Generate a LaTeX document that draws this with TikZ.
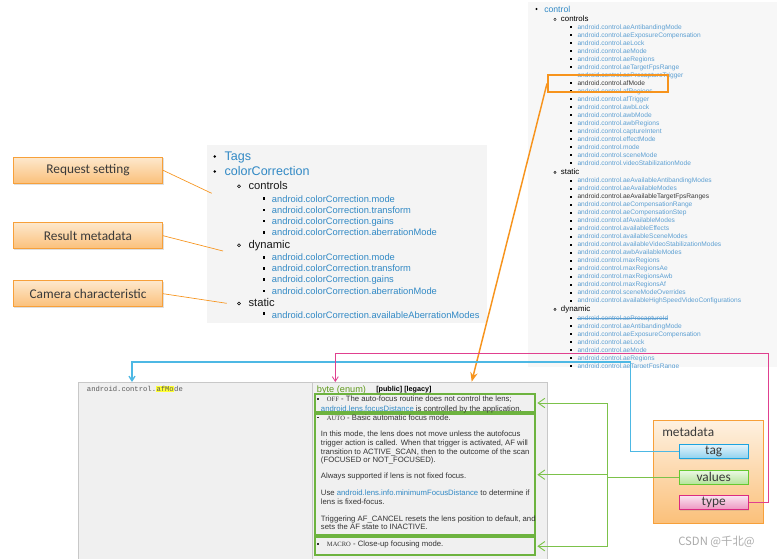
\documentclass[tikz,border=0pt]{standalone}
\usepackage{fontspec}
\setmainfont{Liberation Sans}
\newfontfamily\calibrifont{Carlito}
\newfontfamily\codefont{Liberation Mono}
\newfontfamily\capsfont{Liberation Serif}
\newfontfamily\cjkfont{Noto Sans CJK SC}
\usetikzlibrary{arrows.meta,shadows}

\definecolor{rightbg}{HTML}{F7F7F7}
\definecolor{midbg}{HTML}{F4F4F4}
\definecolor{cellbg}{HTML}{F0F0F0}
\definecolor{cellline}{HTML}{C8C8C8}
\definecolor{linkblue}{HTML}{3189C5}
\definecolor{linkpale}{HTML}{5C9FD2}
\definecolor{darktext}{HTML}{3A3A3A}
\definecolor{bodytext}{HTML}{333333}
\definecolor{enumgreen}{HTML}{5F9A1C}
\definecolor{hlyellow}{HTML}{FFFF33}
\definecolor{orangeline}{HTML}{F7941D}
\definecolor{calloutedge}{HTML}{F7A03A}
\definecolor{callouttop}{HTML}{FDE8CD}
\definecolor{calloutbot}{HTML}{FBC07A}
\definecolor{greenbox}{HTML}{6DB33F}
\definecolor{greenline}{HTML}{7CC24A}
\definecolor{tagblue}{HTML}{1CA3DF}
\definecolor{valgreen}{HTML}{66C830}
\definecolor{typepink}{HTML}{DB2A82}
\definecolor{blueline}{HTML}{4DB8E4}
\definecolor{pinkline}{HTML}{E0408F}
\definecolor{markgray}{HTML}{ABABAB}

\newcommand{\fsz}[2]{\fontsize{#1}{#2}\selectfont}
\newcommand{\capword}[1]{{\capsfont\fsz{4.9}{5}#1}}

\begin{document}
\begin{tikzpicture}[x=0.75pt, y=-0.75pt,
    txt/.style={inner sep=0pt, anchor=base west},
    rtitle/.style={txt, font=\fsz{6.5}{8}, text=linkblue},
    rhead/.style={txt, font=\fsz{5.9}{7}, text=black},
    ritem/.style={txt, font=\fsz{4.95}{6}},
    mtitle/.style={txt, font=\fsz{9.4}{11}, text=linkblue},
    mhead/.style={txt, font=\fsz{8.4}{10}, text=black!90},
    mitem/.style={txt, font=\fsz{7}{8}, text=linkblue},
    doc/.style={txt, font=\fsz{5.8}{7}, text=bodytext},
    callout/.style={draw=calloutedge, line width=0.6pt, top color=callouttop,
        bottom color=calloutbot, minimum width=112pt, minimum height=19.7pt,
        font=\calibrifont\fsz{10}{12}, text=darktext,
        drop shadow={opacity=0.25, shadow xshift=0.8pt, shadow yshift=-0.8pt}},
    pointer/.style={orangeline, line width=0.5pt},
    choice/.style={draw=greenbox, line width=1.5pt, minimum width=165pt, inner sep=0pt},
    field/.style={draw=#1, line width=0.8pt, top color=#1!12, bottom color=#1!50,
        minimum width=52pt, minimum height=10.8pt, inner sep=0pt,
        font=\calibrifont\fsz{10}{12}, text=darktext,
        drop shadow={opacity=0.2, shadow xshift=0.6pt, shadow yshift=-0.6pt}},
    tagwire/.style={blueline, line width=1pt, -{Straight Barb[length=3.5pt,width=4.5pt]}},
    typewire/.style={pinkline, line width=0.6pt, -{Straight Barb[length=3.5pt,width=4.5pt]}},
    valwire/.style={greenline, line width=0.7pt},
    valtip/.style={valwire, shorten >=1pt, -{Straight Barb[length=5pt,width=7pt]}},
    selwire/.style={orangeline, line width=1.1pt, -{Stealth[length=7pt,width=5.5pt]}}]

\useasboundingbox[fill=white] (0,0) rectangle (777,558);

% right panel: control tags
\begin{scope}
  \clip (528,2) rectangle (777,367);
  \fill[rightbg] (528,2) rectangle (777,367);
  \fill (536.5,9) circle (0.9pt);
  \node[rtitle] (control) at (544,12) {control};
  \draw[line width=0.3pt] (555,19.4) circle (0.9pt);
  \node[rhead] (rcontrols) at (560.7,21.8) {controls};
  \foreach \k/\c [count=\i] in {aeAntibandingMode/linkpale, aeExposureCompensation/linkpale,
      aeLock/linkpale, aeMode/linkpale, aeRegions/linkpale, aeTargetFpsRange/linkpale,
      aePrecaptureTrigger/linkpale, afMode/darktext, afRegions/linkpale, afTrigger/linkpale,
      awbLock/linkpale, awbMode/linkpale, awbRegions/linkpale, captureIntent/linkpale,
      effectMode/linkpale, mode/linkpale, sceneMode/linkpale, videoStabilizationMode/linkpale}{
    \fill (570.3,{18.3+8*\i}) rectangle (572.1,{20.1+8*\i});
    \node[ritem, text=\c] (rc\i) at (577.3,{21.5+8*\i}) {android.control.\k};
  }
  \draw[line width=0.3pt] (555,172.3) circle (0.9pt);
  \node[rhead] (rstatic) at (560.7,174.8) {static};
  \foreach \k/\c [count=\i] in {aeAvailableAntibandingModes/linkpale, aeAvailableModes/linkpale,
      aeAvailableTargetFpsRanges/darktext, aeCompensationRange/linkpale,
      aeCompensationStep/linkpale, afAvailableModes/linkpale, availableEffects/linkpale,
      availableSceneModes/linkpale, availableVideoStabilizationModes/linkpale,
      awbAvailableModes/linkpale, maxRegions/linkpale, maxRegionsAe/linkpale,
      maxRegionsAwb/linkpale, maxRegionsAf/linkpale, sceneModeOverrides/linkpale,
      availableHighSpeedVideoConfigurations/linkpale}{
    \fill (570.3,{171.7+8*\i}) rectangle (572.1,{173.5+8*\i});
    \node[ritem, text=\c] (rs\i) at (577.3,{174.9+8*\i}) {android.control.\k};
  }
  \draw[line width=0.3pt] (555,309.3) circle (0.9pt);
  \node[rhead] (rdynamic) at (560.7,311.8) {dynamic};
  \fill (570.3,316.8) rectangle (572.1,318.6);
  \node[ritem, text=linkpale] (rd1) at (577.3,320) {android.control.aePrecaptureId};
  \draw[linkpale, line width=0.35pt] ([yshift=1.5pt]rd1.base west) -- ([yshift=1.5pt]rd1.base east);
  \foreach \k [count=\i from 2] in {aeAntibandingMode, aeExposureCompensation, aeLock,
      aeMode, aeRegions, aeTargetFpsRange}{
    \fill (570.3,{308.8+8*\i}) rectangle (572.1,{310.6+8*\i});
    \node[ritem, text=linkpale] (rd\i) at (577.3,{312+8*\i}) {android.control.\k};
  }
\end{scope}
\node[draw=orangeline, line width=1.5pt, minimum width=90pt, minimum height=12.75pt] (afsel) at (608,83.5) {};

% middle panel: colorCorrection tags
\fill[midbg] (207,145) rectangle (487,323);
\fill (214.7,156.5) circle (1pt);
\node[mtitle] (tags) at (224.3,160.5) {Tags};
\fill (214.7,171.5) circle (1pt);
\node[mtitle] (colorcorr) at (224.3,175.7) {colorCorrection};
\draw[line width=0.4pt] (239,186.3) circle (1.1pt);
\node[mhead] (mcontrols) at (248.3,189.7) {controls};
\foreach \k [count=\i] in {mode, transform, gains, aberrationMode}{
  \fill (262.7,{186.2+11.2*\i}) rectangle (265.3,{188.8+11.2*\i});
  \node[mitem] (mc\i) at (271.7,{190.8+11.2*\i}) {android.colorCorrection.\k};
}
\draw[line width=0.4pt] (239,245.3) circle (1.1pt);
\node[mhead] (mdynamic) at (248.3,248.5) {dynamic};
\foreach \k [count=\i] in {mode, transform, gains, aberrationMode}{
  \fill (262.7,{244.7+11.2*\i}) rectangle (265.3,{247.3+11.2*\i});
  \node[mitem] (md\i) at (271.7,{249.3+11.2*\i}) {android.colorCorrection.\k};
}
\draw[line width=0.4pt] (239,303.5) circle (1.1pt);
\node[mhead] (mstatic) at (248.3,306.8) {static};
\fill (262.7,312.3) rectangle (265.3,314.9);
\node[mitem] (ms1) at (271.7,318.5) {android.colorCorrection.availableAberrationModes};

% callouts
\node[callout] (req) at (88,170.3) {Request setting};
\node[callout] (res) at (88,235.7) {Result metadata};
\node[callout] (cam) at (88,293.7) {Camera characteristic};
\coordinate (reqend) at (211.7,193.3);
\coordinate (resend) at (223,251);
\coordinate (camend) at (226.7,303.3);
\draw[pointer] (req.east) -- (reqend);
\draw[pointer] (res.east) -- (resend);
\draw[pointer] (cam.east) -- (camend);

% bottom table row
\filldraw[fill=cellbg, draw=cellline, line width=0.6pt] (78,382.4) rectangle (547,560);
\draw[cellline, line width=0.6pt] (312,382.4) -- (312,560);
\node[txt, font=\codefont\fsz{5.4}{6}, text=black!65] (tagname) at (86.7,391.6)
    {\setlength{\fboxsep}{0.3pt}android.control.\colorbox{hlyellow}{afMo}de};
\node[txt, font=\fsz{6.9}{8}, text=enumgreen] (enumtype) at (316.7,392) {byte (enum)};
\node[txt, font=\bfseries\fsz{5.4}{6}, text=black] (access) at (376,391.6) {[public] [legacy]};

\node[choice, minimum height=13.5pt] (offbox) at (425,403) {};
\node[choice, minimum height=91pt] (autobox) at (425,474.7) {};
\node[choice, minimum height=13.3pt] (macrobox) at (425,546.2) {};

\fill[bodytext] (317,398.2) rectangle (318.7,399.9);
\node[doc] (off1) at (326.7,401.8) {\capword{OFF} - The auto-focus routine does not control the lens;};
\node[doc] (off2) at (320.7,411.2) {\textcolor{linkblue}{android.lens.focusDistance} is controlled by the application.};
\fill[bodytext] (317,416.6) rectangle (318.7,418.3);
\node[doc] (auto0) at (326.7,420.2) {\capword{AUTO} - Basic automatic focus mode.};
\foreach \y/\t [count=\i] in {436.8/{In this mode, the lens does not move unless the autofocus},
    445.5/{trigger action is called. When that trigger is activated, AF will},
    454.2/{transition to ACTIVE\_SCAN, then to the outcome of the scan},
    462.5/{(FOCUSED or NOT\_FOCUSED).},
    478.8/{Always supported if lens is not fixed focus.},
    521.5/{Triggering AF\_CANCEL resets the lens position to default, and},
    529.8/{sets the AF state to INACTIVE.}}
  \node[doc] (auto\i) at (320.7,\y) {\t};
\node[doc] (use1) at (320.7,495.8) {Use \textcolor{linkblue}{android.lens.info.minimumFocusDistance} to determine if};
\node[doc] (use2) at (320.7,504.5) {lens is fixed-focus.};
\fill[bodytext] (317,542.9) rectangle (318.7,544.6);
\node[doc] (macro) at (326.7,546.5) {\capword{MACRO} - Close-up focusing mode.};

% metadata structure
\node[draw=calloutedge, line width=0.7pt, top color=callouttop!60, bottom color=calloutbot,
    minimum width=82.5pt, minimum height=77.5pt,
    drop shadow={opacity=0.2, shadow xshift=0.8pt, shadow yshift=-0.8pt}] (meta) at (708.3,471.7) {};
\node[anchor=west, inner sep=0pt, font=\calibrifont\fsz{10}{12}, text=darktext] (metatitle) at (662,432.3) {metadata};
\node[field=tagblue] (tag) at (713.7,451.5) {tag};
\node[field=valgreen] (values) at (713.7,477.3) {values};
\node[field=typepink] (type) at (713.7,502.5) {type};

% connectors
\coordinate (afdrop) at (471.7,381.7);
\draw[selwire] (afsel.west) -- (afdrop);

\coordinate (tagturn) at (630.7,362);
\coordinate (taginto) at (132,382);
\draw[tagwire] (tag.west) -| (tagturn) -| (taginto);

\coordinate (typeturn) at (768,353.3);
\coordinate (typeinto) at (335.3,382);
\draw[typewire] (type.east) -| (typeturn) -| (typeinto);

\coordinate (valjoin) at (607.7,477);
\draw[valwire] (values.west) -- (valjoin |- values.west);
\draw[valwire] (valjoin |- offbox.east) -- (valjoin |- macrobox.east);
\foreach \b in {offbox, autobox, macrobox}
  \draw[valtip] (valjoin |- \b.east) -- (\b.east);

\node[anchor=base west, inner sep=0pt, font=\cjkfont\fsz{8.5}{10}, text=markgray] (mark) at (678,545.5) {CSDN @千北@};
\end{tikzpicture}
\end{document}
